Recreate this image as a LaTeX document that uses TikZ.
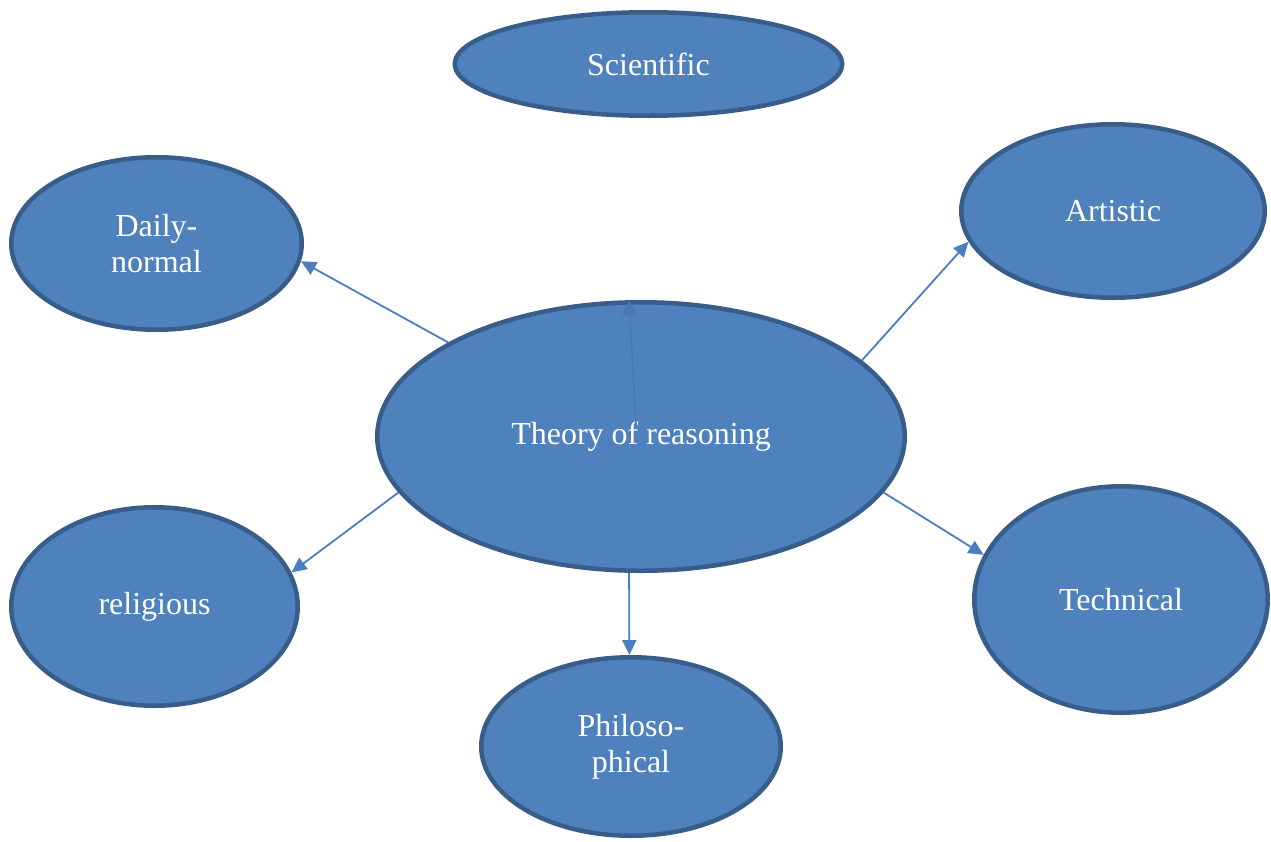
\documentclass[tikz,border=0pt]{standalone}
\usepackage{fontspec}
\setmainfont{Liberation Serif}
\usetikzlibrary{shapes.geometric,arrows.meta}
\definecolor{bubblefill}{HTML}{4F81BD}
\definecolor{bubbleedge}{HTML}{385D8A}
\definecolor{linkblue}{HTML}{4A7EBF}
\definecolor{innerblue}{HTML}{4877B2}
\begin{document}
\begin{tikzpicture}[x=1pt,y=-1pt,
  bubble/.style={ellipse, draw=bubbleedge, fill=bubblefill, line width=4.5pt,
    inner sep=0pt, text=white, font=\fontsize{32}{36}\selectfont, align=center},
  link/.style={draw=linkblue, line width=1.8pt, -{Triangle[length=15pt,width=14pt]}},
  innerlink/.style={draw=innerblue, line width=1.4pt, -{Triangle[length=15pt,width=15pt]}}]
\useasboundingbox (0,0) rectangle (1271,841);

% outer ring of reasoning kinds
\node[bubble, minimum width=387.5pt, minimum height=103.5pt] (scientific) at (648.5,64) {Scientific};
\node[bubble, minimum width=290.5pt, minimum height=172.5pt] (daily) at (156.5,243.5) {Daily-\\normal};
\node[bubble, minimum width=303.5pt, minimum height=173.5pt] (artistic) at (1113,211) {Artistic};
\node[bubble, minimum width=286.5pt, minimum height=198.5pt] (religious) at (154.5,606.5) {religious};
\node[bubble, minimum width=293.5pt, minimum height=226.5pt] (technical) at (1121,599.5) {Technical};
\node[bubble, minimum width=299.5pt, minimum height=178.5pt] (philosophical) at (631,746.5) {Philoso-\\phical};

% central node
\node[bubble, minimum width=527.5pt, minimum height=268.5pt] (theory) at (641,436.5) {Theory of reasoning};

% connectors from the centre outwards
\draw[link] (theory.154) -- (daily.-7);
\draw[link] (theory.193.8) -- (religious.14);
\draw[link] (theory.19.6) -- (artistic.192.4);
\draw[link] (theory.-13.6) -- (technical.162);
\draw[link] (theory.-95) -- (philosophical.91);

% faint arrow inside the central node, pointing up
\coordinate (inner) at (636,425);
\draw[innerlink] (inner) -- (theory.95.6);
\end{tikzpicture}
\end{document}
